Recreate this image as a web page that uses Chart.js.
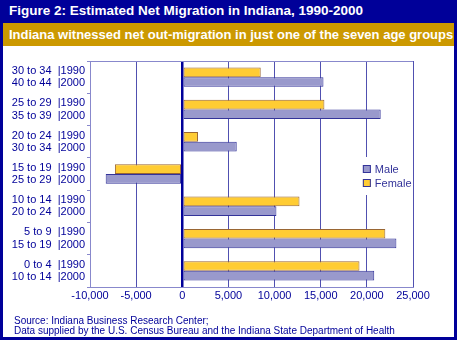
<!DOCTYPE html>
<html><head><meta charset="utf-8">
<script src="https://cdn.jsdelivr.net/npm/chart.js@4"></script>
<style>
html,body{margin:0;padding:0;background:#fff;}
#wrap{position:relative;width:457px;height:340px;overflow:hidden;font-family:Arial,"Liberation Sans",sans-serif;}
#frame{position:absolute;left:0;top:0;width:451px;height:334px;border:3px solid #000099;pointer-events:none;}
#t1{position:absolute;left:0;top:0;width:457px;height:23px;background:#000099;color:#fff;font-weight:bold;font-size:13.5px;line-height:22px;box-sizing:border-box;padding-left:9px;white-space:nowrap;}
#t2{position:absolute;left:0;top:23px;width:457px;height:23px;background:#CC9900;color:#fff;font-weight:bold;font-size:13px;line-height:23px;box-sizing:border-box;padding-left:9px;white-space:nowrap;}
#src{position:absolute;left:14px;top:316px;color:#000099;font-size:10px;line-height:10px;white-space:nowrap;}
canvas{position:absolute;left:0;top:0;}
</style></head>
<body>
<div id="wrap">
<canvas id="c" width="457" height="340"></canvas>
<div id="t1">Figure 2: Estimated Net Migration in Indiana, 1990-2000</div>
<div id="t2">Indiana witnessed net out-migration in just one of the seven age groups</div>
<div id="src">Source: Indiana Business Research Center;<br>Data supplied by the U.S. Census Bureau and the Indiana State Department of Health</div>
<div id="frame"></div>
</div>
<script>
const ageGroups1990 = ['30 to 34','25 to 29','20 to 24','15 to 19','10 to 14','5 to 9','0 to 4'];
const ageGroups2000 = ['40 to 44','35 to 39','30 to 34','25 to 29','20 to 24','15 to 19','10 to 14'];
const femaleValues = [8500, 15400, 1700, -7300, 12700, 22000, 19200];
const maleValues = [15300, 21500, 5900, -8300, 10200, 23200, 20800];
const xTickValues = [-10000,-5000,0,5000,10000,15000,20000,25000];

const labels = ageGroups1990.map((a,i)=>[a+'  |1990', ageGroups2000[i]+'  |2000']);
const navy = '#000099';
const light = '#8888cc';

const frameLines = {
  id:'frameLines',
  beforeDatasetsDraw(chart){
    const {ctx, chartArea:a} = chart;
    ctx.save();
    ctx.strokeStyle = light; ctx.lineWidth = 1;
    ctx.beginPath(); ctx.moveTo(a.left, a.top+0.5); ctx.lineTo(a.right, a.top+0.5); ctx.stroke();
    ctx.restore();
  },
  afterDraw(chart){
    const {ctx} = chart;
    const x = chart.scales.x;
    const sx = x.getPixelForValue(20000);
    ctx.save();
    ctx.fillStyle = '#fff';
    ctx.fillRect(sx-10, 157, 48, 38);
    const items = [{t:chart.data.datasets[1].label, c:chart.data.datasets[1].backgroundColor},
                   {t:chart.data.datasets[0].label, c:chart.data.datasets[0].backgroundColor}];
    ctx.font = '11px Arial, "Liberation Sans", sans-serif';
    ctx.textBaseline = 'middle';
    items.forEach((it,i)=>{
      const y = 165 + i*14;
      ctx.fillStyle = it.c; ctx.fillRect(sx-4, y, 8, 8);
      ctx.strokeStyle = '#333399'; ctx.lineWidth=1; ctx.strokeRect(sx-4+0.5, y+0.5, 7, 7);
      ctx.fillStyle = '#333399'; ctx.fillText(it.t, sx+8, y+4.5);
    });
    ctx.restore();
  }
};

new Chart(document.getElementById('c'), {
  type:'bar',
  data:{
    labels: labels,
    datasets:[
      {label:'Female', data:femaleValues, backgroundColor:'#FFCC33', borderColor:'#996633', borderWidth:1, borderSkipped:false, categoryPercentage:0.6, barPercentage:1.0},
      {label:'Male', data:maleValues, backgroundColor:'#9999CC', borderColor:'#333399', borderWidth:1, borderSkipped:false, categoryPercentage:0.6, barPercentage:1.0}
    ]
  },
  options:{
    indexAxis:'y',
    responsive:false,
    animation:false,
    devicePixelRatio:1,
    layout:{padding:{left:0, right:44, top:61, bottom:0}},
    plugins:{legend:{display:false}, tooltip:{enabled:false}},
    scales:{
      x:{
        type:'linear', min:-10000, max:25000,
        afterBuildTicks(s){ s.ticks = xTickValues.map(v=>({value:v})); },
        afterFit(s){ s.height = 53; },
        grid:{
          color:(c)=> c.tick && c.tick.value===0 ? navy : '#5050b0',
          lineWidth:(c)=> c.tick && c.tick.value===0 ? 2.5 : 1,
          drawTicks:false
        },
        border:{color:light, width:1},
        ticks:{color:navy, padding:2, font:{family:'Arial, "Liberation Sans", sans-serif', size:11},
          callback:(v)=> Number(v).toLocaleString('en-US')}
      },
      y:{
        afterFit(s){ s.width = 90; },
        grid:{drawOnChartArea:false, drawTicks:true, tickLength:3, offset:true, color:light},
        border:{color:light, width:1},
        ticks:{color:navy, padding:2, font:{family:'Arial, "Liberation Sans", sans-serif', size:11, lineHeight:1.12}}
      }
    }
  },
  plugins:[frameLines]
});
</script>
</body></html>
